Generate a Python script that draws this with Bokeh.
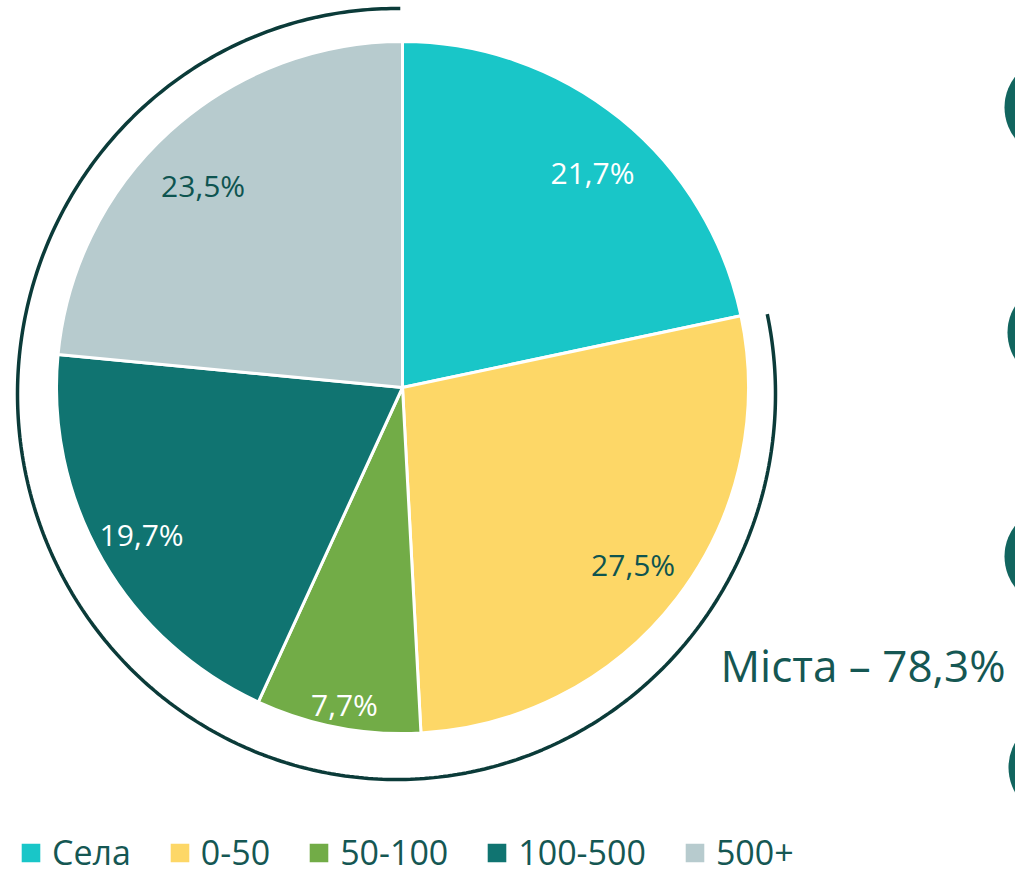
import numpy as np
from bokeh.plotting import figure
from bokeh.models import ColumnDataSource, Range1d, Legend, LegendItem, Label
from bokeh.core.properties import value
from bokeh.embed import file_html
from bokeh.resources import INLINE

# ---------------- data ----------------
categories = ["Села", "0-50", "50-100", "100-500", "500+"]
shares = [21.7, 27.5, 7.7, 19.7, 23.5]
pct_labels = ["21,7%", "27,5%", "7,7%", "19,7%", "23,5%"]
cities_label = "Міста – 78,3%"

# ---------------- style ----------------
colors = ["#19C6C8", "#FDD767", "#72AC47", "#107471", "#B7CBCE"]
label_colors = ["white", "#0E5450", "white", "white", "#0E5450"]
label_radius_frac = [0.83, 0.84, 0.93, 0.865, 0.82]
label_angle_nudge_deg = [-2.4, 0.0, 0.4, -0.6, 2.4]
TEXT_DARK = "#155753"
ARC_COLOR = "#0B3B39"
FONT = "Open Sans"

W, H = 1015, 875
CX, CY = 402, 387          # pie centre in picture pixels
R = 346

p = figure(width=W, height=H, output_backend="svg", toolbar_location=None,
           x_range=Range1d(-CX, W - CX), y_range=Range1d(CY - H, CY),
           min_border=0, outline_line_color=None)
p.axis.visible = False
p.grid.visible = False

vals = np.array(shares, dtype=float)
frac = vals / vals.sum()
cum = np.concatenate([[0.0], np.cumsum(frac)])
start = np.pi / 2 - cum[:-1] * 2 * np.pi
end = np.pi / 2 - cum[1:] * 2 * np.pi
mid = (start + end) / 2 + np.radians(label_angle_nudge_deg)

src = ColumnDataSource(dict(name=categories, start=start, end=end, color=colors))
wr = p.wedge(x=0, y=0, radius=R, start_angle="start", end_angle="end",
             direction="clock", fill_color="color", line_color="white",
             line_width=3, source=src)

# labels
lr = np.array(label_radius_frac) * R
lsrc = ColumnDataSource(dict(x=lr * np.cos(mid), y=lr * np.sin(mid),
                             text=pct_labels, color=label_colors))
p.text(x="x", y="y", text="text", text_color="color", source=lsrc,
       text_font=value(FONT), text_font_size="30px",
       text_align="center", text_baseline="middle")

# outer arc around the cities' share (ellipse-like bracket)
ecx, ecy, erx, ery = -6, -6.5, 379, 385.5
t_end = np.pi / 2 - cum[1] * 2 * np.pi + 2 * np.pi
t = np.linspace(np.pi / 2 - 0.01, t_end, 400)
p.line(ecx + erx * np.cos(t), ecy + ery * np.sin(t), line_color=ARC_COLOR,
       line_width=3.5)

# cities label
p.add_layout(Label(x=720 - CX, y=CY - 664, text=cities_label,
                   text_font=FONT, text_font_size="44px", text_color=TEXT_DARK,
                   text_align="left", text_baseline="middle"))

# partially visible decorative circles at the right edge
side_y = [107, 332, 556, 767]
side_x = [1054, 1057, 1054, 1058]
p.circle(x=[sx - CX for sx in side_x], y=[CY - sy for sy in side_y], radius=50,
         fill_color="#12655F", line_color=None)

# legend
items = [LegendItem(label=c, renderers=[wr], index=i) for i, c in enumerate(categories)]
legend = Legend(items=items, orientation="horizontal", location=(17, 0),
                glyph_width=27, glyph_height=27, label_standoff=8, spacing=35,
                padding=0, margin=0, border_line_color=None,
                background_fill_alpha=0, label_text_font=FONT,
                label_text_font_size="34px", label_text_color=TEXT_DARK)
p.add_layout(legend, "center")

open("out.html", "w").write(file_html(p, INLINE))
